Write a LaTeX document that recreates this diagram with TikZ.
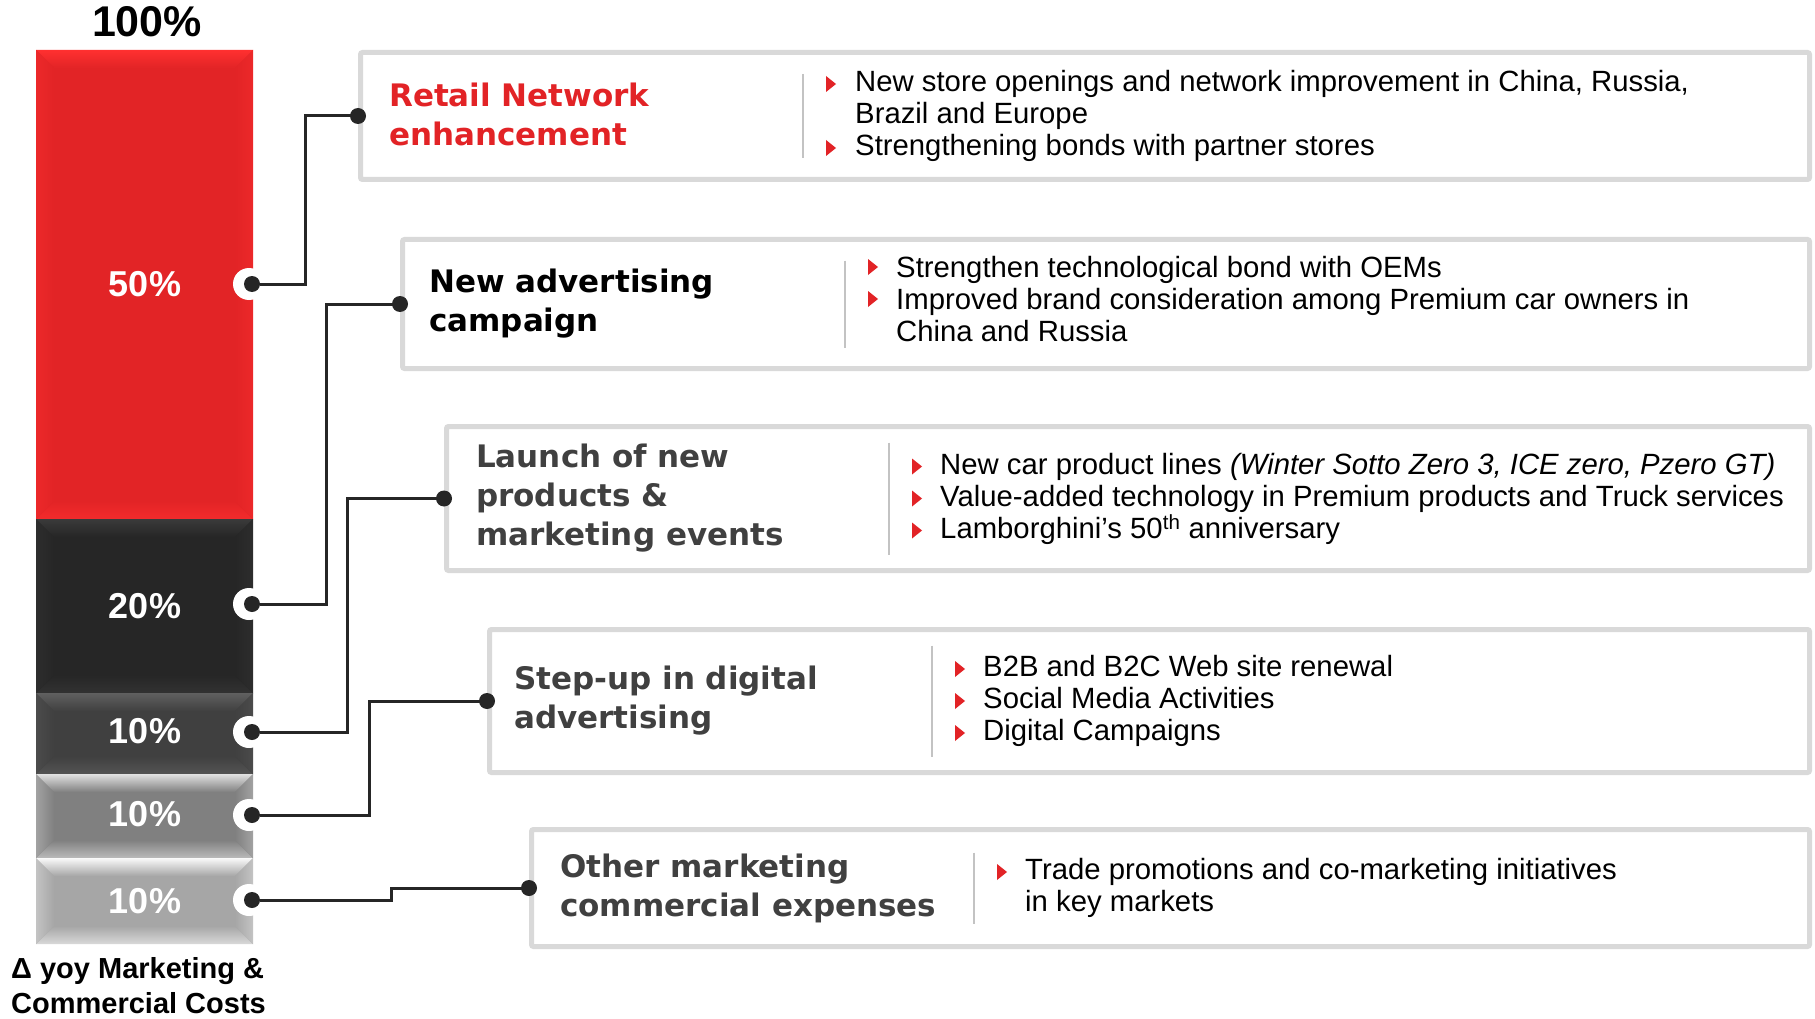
\documentclass[tikz,border=0pt]{standalone}
\usepackage{fontspec}
\setmainfont{Liberation Sans}
\newfontfamily\headfont{DejaVu Sans}
\usepackage{xcolor}
\usepackage{tikz}
\usetikzlibrary{positioning, calc}

\begin{document}
\begin{tikzpicture}[x=1pt, y=-1pt,
    panel/.style={draw=panelgray, line width=5pt, rounded corners=2pt, fill=white, anchor=north west, inner sep=0pt},
    link/.style={draw=linkgray, line width=3pt},
    pin/.style={circle, fill=linkgray, inner sep=0pt, minimum size=16pt},
    socket/.style={circle, fill=white, inner sep=0pt, minimum size=32pt},
    divider/.style={draw=panelgray!90!black, line width=2pt},
    heading/.style={anchor=west, align=left, inner sep=0pt, font=\headfont\bfseries\fontsize{31}{39}\selectfont},
    points/.style={anchor=west, align=left, inner sep=0pt, font=\fontsize{29.3}{32}\selectfont},
    share/.style={text=white, inner sep=0pt, font=\bfseries\fontsize{36}{40}\selectfont},
    redtip/.pic={\fill[fnred] (-4,-8) -- (-4,8) -- (6,0) -- cycle;}
]
    % Định nghĩa màu sắc
    \definecolor{fnred}{RGB}{226, 35, 38}
    \definecolor{panelgray}{RGB}{217, 217, 217}
    \definecolor{linkgray}{RGB}{38, 38, 38}
    \definecolor{titlegray}{RGB}{64, 64, 64}
    \definecolor{barred}{RGB}{226, 36, 38}
    \definecolor{barredlt}{RGB}{255, 48, 48}
    \definecolor{barblack}{RGB}{38, 38, 38}
    \definecolor{barblacklt}{RGB}{58, 58, 58}
    \definecolor{bardark}{RGB}{64, 64, 64}
    \definecolor{bardarklt}{RGB}{96, 96, 96}
    \definecolor{barmid}{RGB}{128, 128, 128}
    \definecolor{barmidlt}{RGB}{225, 225, 225}
    \definecolor{barlight}{RGB}{166, 166, 166}
    \definecolor{barlightlt}{RGB}{250, 250, 250}

    \useasboundingbox (0,0) rectangle (1815,1019);

    % 1. Vẽ cột chồng (5 đoạn) - cạnh trái x = 36, cạnh phải x = 253
    \foreach \ya/\yb/\base/\lite in {50/519/barred/barredlt, 519/693/barblack/barblacklt,
        693/774/bardark/bardarklt, 774/858/barmid/barmidlt, 858/944/barlight/barlightlt} {
        \fill[\base] (36,\ya) rectangle (253,\yb);
        % vát cạnh trên / dưới / hai bên
        \shade[top color=\lite, bottom color=\base] (36,\ya) -- (253,\ya) -- (235,\ya+18) -- (54,\ya+18) -- cycle;
        \shade[top color=\base, bottom color=\lite!60!\base] (36,\yb) -- (253,\yb) -- (235,\yb-18) -- (54,\yb-18) -- cycle;
        \shade[left color=\lite!35!\base, right color=\base] (36,\ya) -- (54,\ya+18) -- (54,\yb-18) -- (36,\yb) -- cycle;
        \shade[left color=\base, right color=\lite!35!\base] (253,\ya) -- (235,\ya+18) -- (235,\yb-18) -- (253,\yb) -- cycle;
    }

    % 2. Nhãn phần trăm trên cột
    \node[font=\bfseries\fontsize{43}{46}\selectfont, inner sep=0pt] (total) at (147,22) {100\%};
    \node[share] (p1) at (145,284) {50\%};
    \node[share] (p2) at (145,606) {20\%};
    \node[share] (p3) at (145,731) {10\%};
    \node[share] (p4) at (145,814) {10\%};
    \node[share] (p5) at (145,901) {10\%};
    \node[anchor=north west, align=left, inner sep=0pt, font=\bfseries\fontsize{29}{35}\selectfont] (axis) at (11,957)
        {Δ yoy Marketing \&\\Commercial Costs};

    % 3. Các điểm nối ở cạnh phải của cột
    \foreach \y [count=\i] in {284, 604, 732, 815, 900} {
        \node[socket] at (249,\y) {};
        \node[pin] (b\i) at (252,\y) {};
    }

    % 4. Các khung nội dung (cạnh phải chung x = 1807)
    \node[panel, minimum width=1449pt, minimum height=127pt] (retail) at (358,50) {};
    \node[panel, minimum width=1407pt, minimum height=129pt] (advert) at (400,237) {};
    \node[panel, minimum width=1363pt, minimum height=144pt] (launch) at (444,424) {};
    \node[panel, minimum width=1320pt, minimum height=143pt] (digital) at (487,627) {};
    \node[panel, minimum width=1278pt, minimum height=117pt] (other) at (529,827) {};

    % Tiêu đề của từng khung
    \node[heading, text=fnred] (retailhd) at ([xshift=31pt, yshift=2pt]retail.west) {Retail Network\\enhancement};
    \node[heading, text=black] (adverthd) at ([xshift=29pt]advert.west) {New advertising\\campaign};
    \node[heading, text=titlegray] (launchhd) at ([xshift=32pt]launch.west) {Launch of new\\products \&\\marketing events};
    \node[heading, text=titlegray] (digitalhd) at ([xshift=27pt]digital.west) {Step-up in digital\\advertising};
    \node[heading, text=titlegray] (otherhd) at ([xshift=31pt]other.west) {Other marketing\\commercial expenses};

    % Đường phân cách dọc
    \foreach \b/\h in {retail/84, advert/87, launch/112, digital/111, other/71}
        \draw[divider] ([shift={(445,-\h/2)}]\b.west) -- ++(0,\h);

    % Các gạch đầu dòng
    \node[points] (retailtx) at ([xshift=497pt]retail.west)
        {New store openings and network improvement in China, Russia,\\Brazil and Europe\\Strengthening bonds with partner stores};
    \node[points] (adverttx) at ([xshift=496pt, yshift=5pt]advert.west)
        {Strengthen technological bond with OEMs\\Improved brand consideration among Premium car owners in\\China and Russia};
    \node[points] (launchtx) at ([xshift=496pt]launch.west)
        {New car product lines \textit{(Winter Sotto Zero 3, ICE zero, Pzero GT)}\\Value-added technology in Premium products and Truck services\\Lamborghini’s 50\textsuperscript{th} anniversary};
    \node[points] (digitaltx) at ([xshift=496pt]digital.west)
        {B2B and B2C Web site renewal\\Social Media Activities\\Digital Campaigns};
    \node[points] (othertx) at ([xshift=496pt]other.west)
        {Trade promotions and co-marketing initiatives\\in key markets};

    \foreach \b/\dy in {retail/-32, retail/32, advert/-37, advert/-5, launch/-32, launch/0, launch/32,
        digital/-32, digital/0, digital/32, other/-16}
        \pic at ([shift={(472,\dy)}]\b.west) {redtip};

    % 5. Đường nối từ cột sang khung
    \draw[link] (b1) -- ++(53,0) |- (retail.west);
    \draw[link] (b2) -- ++(74,0) |- (advert.west);
    \draw[link] (b3) -- ++(95,0) |- (launch.west);
    \draw[link] (b4) -- ++(117,0) |- (digital.west);
    \draw[link] (b5) -- ++(139,0) |- (other.west);

    \foreach \b in {retail, advert, launch, digital, other}
        \node[pin] at (\b.west) {};

\end{tikzpicture}
\end{document}
